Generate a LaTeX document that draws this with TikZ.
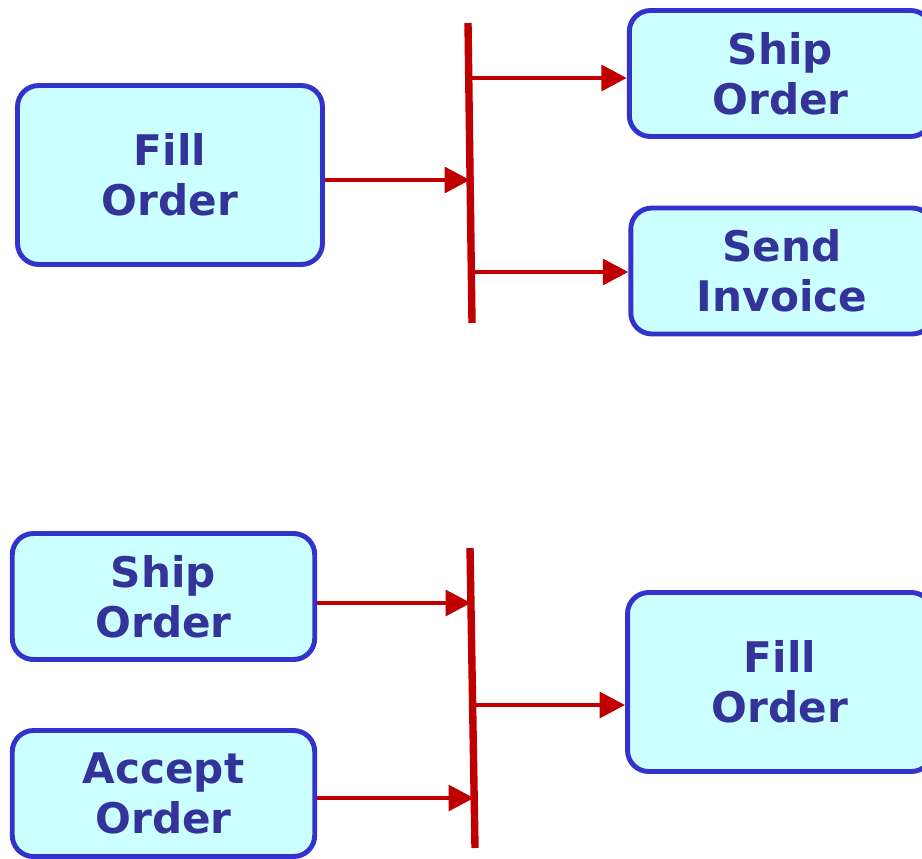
\documentclass[tikz,border=0pt]{standalone}
\usepackage{fontspec}
\setmainfont{DejaVu Sans}
\usetikzlibrary{arrows.meta}
\definecolor{azulborde}{RGB}{51,51,204}
\definecolor{azultexto}{RGB}{51,51,153}
\definecolor{celeste}{RGB}{204,255,255}
\definecolor{rojo}{RGB}{192,0,0}
\tikzset{
  caja/.style={rectangle,rounded corners=12pt,draw=azulborde,line width=2.8pt,fill=celeste,
    text=azultexto,align=center,inner sep=0pt,font=\fontsize{24}{28.5}\selectfont\bfseries},
  grande/.style={caja,minimum width=6.1cm,minimum height=3.58cm},
  chica/.style={caja,minimum width=6.05cm,minimum height=2.52cm},
  flecha/.style={-{Triangle[length=14.5pt,width=14.5pt]},rojo,line width=2.8pt},
  barra/.style={rojo,line width=4.2pt},
}
\begin{document}
\begin{tikzpicture}[x=0.02cm,y=-0.02cm]
    \useasboundingbox (0,0) rectangle (922,858);
    \clip (0,0) rectangle (922,858);
    % fork
    \node[grande] (fill1) at (170,175) {Fill\\Order};
    \node[chica] (ship1) at (780.5,73.5) {Ship\\Order};
    \node[chica] (send) at (782,271) {Send\\Invoice};
    \coordinate (b1a) at (468,23); \coordinate (b1b) at (472,323);
    \draw[barra] (b1a)--(b1b);
    \coordinate (e1) at (470,180);
    \coordinate (s1) at (469,78); \coordinate (s2) at (471,272);
    \draw[flecha] (fill1.east |- e1)--(e1);
    \draw[flecha] (s1)--(s1 -| ship1.west);
    \draw[flecha] (s2)--(s2 -| send.west);
    % join
    \node[chica] (ship2) at (163.5,596.5) {Ship\\Order};
    \node[chica] (accept) at (163.5,793.5) {Accept\\Order};
    \node[grande] (fill2) at (780,682) {Fill\\Order};
    \coordinate (b2a) at (470,548); \coordinate (b2b) at (475,848);
    \draw[barra] (b2a)--(b2b);
    \coordinate (e2) at (471,603); \coordinate (e3) at (474,798);
    \coordinate (s3) at (473,705);
    \draw[flecha] (ship2.east |- e2)--(e2);
    \draw[flecha] (accept.east |- e3)--(e3);
    \draw[flecha] (s3)--(s3 -| fill2.west);
\end{tikzpicture}
\end{document}
